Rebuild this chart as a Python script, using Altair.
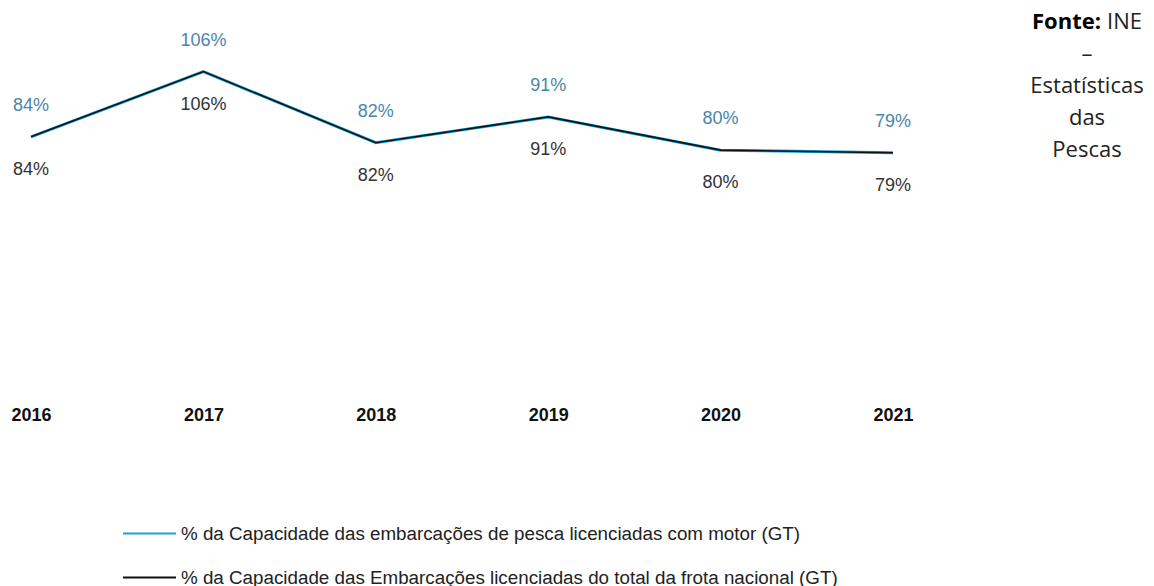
import altair as alt
import pandas as pd

years = ["2016", "2017", "2018", "2019", "2020", "2021"]
motor_values = [0.84, 1.06, 0.82, 0.907, 0.795, 0.786]
total_values = [0.84, 1.06, 0.82, 0.907, 0.795, 0.786]
series_names = [
    "% da Capacidade das embarcações de pesca licenciadas com motor (GT)",
    "% da Capacidade das Embarcações licenciadas do total da frota nacional (GT)",
]
series_colors = ["#1ba1d8", "#111111"]
source_bold = "Fonte:"
source_rest = "INE"
source_lines = ["–", "Estatísticas", "das", "Pescas"]

rows = []
for y, v in zip(years, motor_values):
    rows.append({"year": y, "value": v, "series": series_names[0]})
for y, v in zip(years, total_values):
    rows.append({"year": y, "value": v, "series": series_names[1]})
df = pd.DataFrame(rows)

base = alt.Chart(df).encode(
    x=alt.X(
        "year:O",
        scale=alt.Scale(type="point", padding=0),
        axis=alt.Axis(
            title=None, labelAngle=0, domain=False, ticks=False, grid=False,
            labelFont="Liberation Sans", labelFontSize=18, labelFontWeight="bold",
            labelColor="#111111", labelPadding=20,
        ),
    ),
    y=alt.Y("value:Q", scale=alt.Scale(domain=[0, 1.2], nice=False), axis=None),
)

color_enc = alt.Color(
    "series:N",
    scale=alt.Scale(domain=series_names, range=series_colors),
    legend=alt.Legend(
        title=None, orient="none", legendX=91, legendY=476,
        symbolType="stroke", symbolSize=2809, symbolStrokeWidth=2,
        labelFont="Liberation Sans", labelFontSize=18.8, labelColor="#222222",
        labelLimit=900, labelOffset=4, rowPadding=6,
    ),
)

line_motor = base.mark_line(strokeWidth=3).encode(color=color_enc).transform_filter(
    alt.datum.series == series_names[0]
)
line_total = base.mark_line(strokeWidth=1.6).encode(color=color_enc).transform_filter(
    alt.datum.series == series_names[1]
)

lab_motor = base.mark_text(
    dy=-31, font="Liberation Sans", fontSize=18, color="#4a86a8"
).encode(text=alt.Text("value:Q", format=".0%")).transform_filter(
    alt.datum.series == series_names[0]
)
lab_total = base.mark_text(
    dy=33, font="Liberation Sans", fontSize=18, color="#333333"
).encode(text=alt.Text("value:Q", format=".0%")).transform_filter(
    alt.datum.series == series_names[1]
)

src_font = "Open Sans"
src_size = 22
src1 = alt.Chart(pd.DataFrame({"t": [source_bold]})).mark_text(
    font=src_font, fontSize=src_size, fontWeight="bold", align="right",
    baseline="alphabetic", color="#000000"
).encode(text="t:N", x=alt.value(1070), y=alt.value(-1))
src2 = alt.Chart(pd.DataFrame({"t": [source_rest]})).mark_text(
    font=src_font, fontSize=src_size, align="left", baseline="alphabetic", color="#222222"
).encode(text="t:N", x=alt.value(1076), y=alt.value(-1))
src3 = alt.Chart(pd.DataFrame({"t": [source_lines]})).mark_text(
    font=src_font, fontSize=src_size, align="center", baseline="alphabetic",
    lineHeight=32, color="#222222"
).encode(text="t:N", x=alt.value(1056), y=alt.value(31))

chart = alt.layer(line_motor, line_total, lab_motor, lab_total, src1, src2, src3).properties(
    width=862, height=356,
    autosize=alt.AutoSizeParams(type="none"),
    padding={"left": 23, "top": 22, "right": 253, "bottom": 210},
).configure_view(strokeWidth=0)

chart.save("out.html", embed_options={"renderer": "svg", "actions": False})
